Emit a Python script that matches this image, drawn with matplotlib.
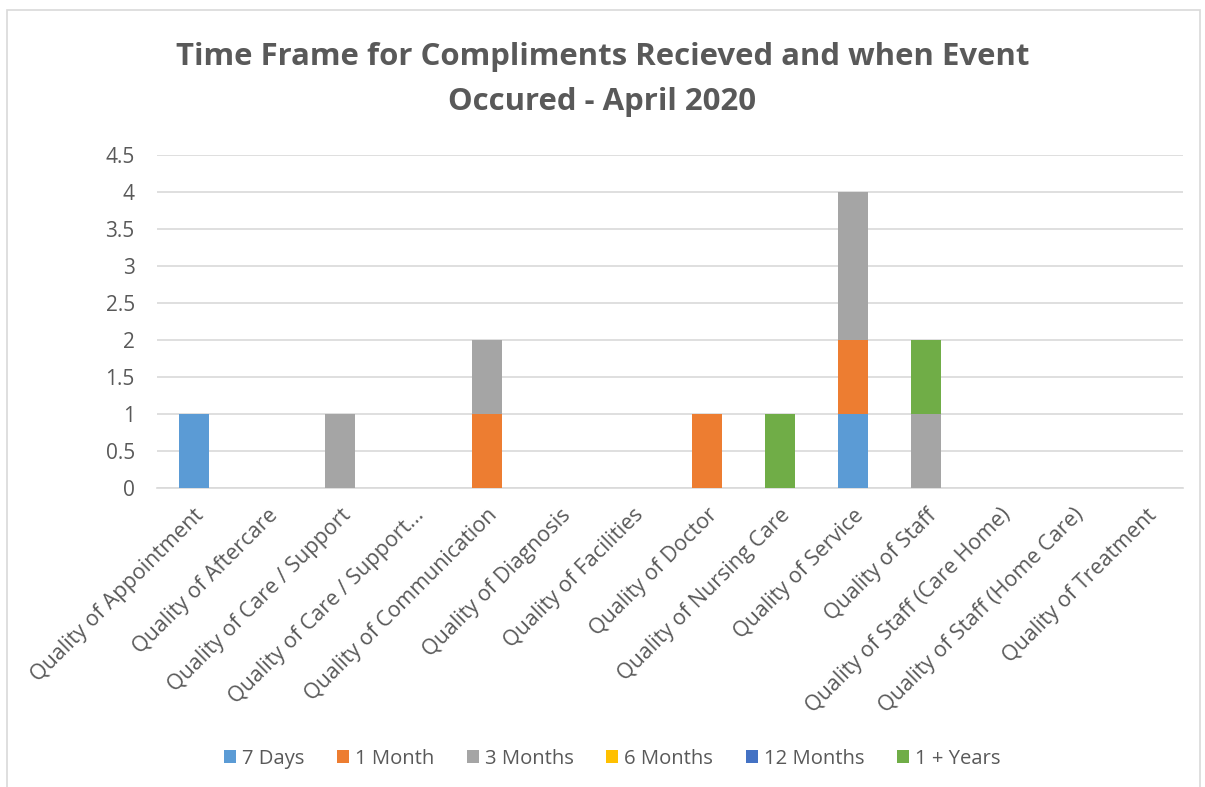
import matplotlib
matplotlib.use('Agg')
import matplotlib.pyplot as plt
import numpy as np
from matplotlib.patches import Rectangle

plt.rcParams['font.family'] = ['Open Sans', 'DejaVu Sans']

# categories and the count for each time frame
categories = [
    'Quality of Appointment', 'Quality of Aftercare', 'Quality of Care / Support',
    'Quality of Care / Support...', 'Quality of Communication', 'Quality of Diagnosis',
    'Quality of Facilities', 'Quality of Doctor', 'Quality of Nursing Care',
    'Quality of Service', 'Quality of Staff', 'Quality of Staff (Care Home)',
    'Quality of Staff (Home Care)', 'Quality of Treatment',
]
days_7 = [1, 0, 0, 0, 0, 0, 0, 0, 0, 1, 0, 0, 0, 0]
month_1 = [0, 0, 0, 0, 1, 0, 0, 1, 0, 1, 0, 0, 0, 0]
months_3 = [0, 0, 1, 0, 1, 0, 0, 0, 0, 2, 1, 0, 0, 0]
months_6 = [0] * 14
months_12 = [0] * 14
years_1 = [0, 0, 0, 0, 0, 0, 0, 0, 1, 0, 1, 0, 0, 0]

series = [
    ('7 Days', days_7, '#5B9BD5'),
    ('1 Month', month_1, '#ED7D31'),
    ('3 Months', months_3, '#A5A5A5'),
    ('6 Months', months_6, '#FFC000'),
    ('12 Months', months_12, '#4472C4'),
    ('1 + Years', years_1, '#70AD47'),
]

text_col = '#595959'
grid_col = '#D9D9D9'

fig = plt.figure(figsize=(12.05, 7.87), dpi=100)
ax = fig.add_axes([0.1303, 0.3799, 0.8514, 0.4231])

x = np.arange(len(categories))
bottom = np.zeros(len(categories))
for name, vals, col in series:
    vals = np.array(vals, dtype=float)
    ax.bar(x, vals, 0.41, bottom=bottom, color=col, label=name, zorder=3)
    bottom += vals

ax.set_xlim(-0.5, len(categories) - 0.5)
ax.set_ylim(0, 4.5)
ax.set_yticks(np.arange(0, 4.51, 0.5))
ax.set_yticklabels(['0', '0.5', '1', '1.5', '2', '2.5', '3', '3.5', '4', '4.5'])
ax.yaxis.grid(True, color=grid_col, linewidth=1.2, zorder=0)
for s in ['top', 'right', 'left']:
    ax.spines[s].set_visible(False)
ax.spines['bottom'].set_color(grid_col)
ax.spines['bottom'].set_linewidth(1.2)
ax.tick_params(axis='both', length=0, colors=text_col, labelsize=15)
ax.tick_params(axis='y', pad=16)
ax.set_xticks(x)
ax.set_xticklabels(categories, rotation=45, ha='right', va='top', rotation_mode='anchor',
                   fontsize=15.5)
ax.tick_params(axis='x', pad=12)

fig.text(0.5, 0.927, 'Time Frame for Compliments Recieved and when Event', ha='center', va='center',
         fontsize=22.4, fontweight='bold', color=text_col)
fig.text(0.5, 0.870, 'Occured - April 2020', ha='center', va='center',
         fontsize=22.4, fontweight='bold', color=text_col)

fig.legend(loc='center', bbox_to_anchor=(0.508, 0.036), ncol=6, frameon=False,
           fontsize=14.6, labelcolor=text_col, handlelength=0.6, handleheight=0.6,
           handletextpad=0.3, columnspacing=1.6)

fig.patches.append(Rectangle((0.006, -0.01), 0.99, 0.997, transform=fig.transFigure,
                             fill=False, edgecolor='#D9D9D9', linewidth=1.2))

fig.savefig('out.png', dpi=100)
